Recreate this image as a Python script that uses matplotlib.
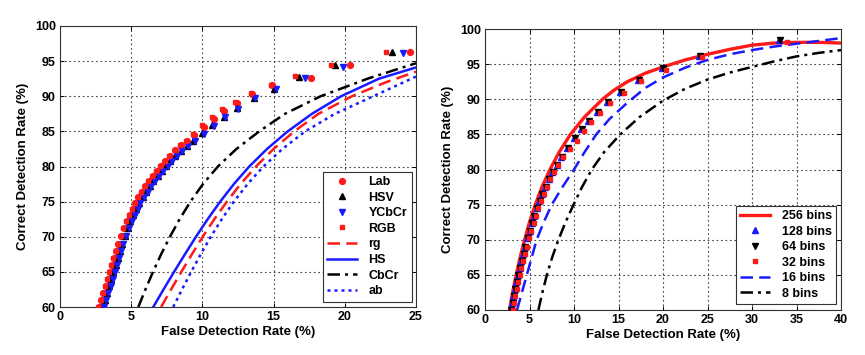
import matplotlib
matplotlib.use("Agg")
import matplotlib.pyplot as plt

plt.rcParams['font.family'] = ['Liberation Sans', 'DejaVu Sans']
plt.rcParams['font.weight'] = 'bold'

# ---------------- Left panel data ----------------
lab_fdr = [2.75, 2.9, 3.05, 3.2, 3.35, 3.5, 3.65, 3.8, 3.95, 4.1, 4.3, 4.5, 4.7, 4.9, 5.1, 5.3, 5.5, 5.75, 6.0,
           6.25, 6.5, 6.8, 7.1, 7.4, 7.7, 8.1, 8.5, 8.9, 9.4, 10.1, 10.8, 11.5, 12.4, 13.5, 14.9, 17.6, 20.4, 24.6]
lab_cdr = [60, 61, 62, 63, 64, 65, 66, 67, 68, 69, 70.1, 71.2, 72.2, 73.1, 74.0, 74.8, 75.6, 76.4, 77.2,
           77.9, 78.6, 79.4, 80.1, 80.8, 81.5, 82.3, 83.0, 83.7, 84.5, 85.6, 86.8, 87.9, 89.1, 90.3, 91.6, 92.6, 94.4, 96.3]

hsv_fdr = [3.0, 3.15, 3.3, 3.45, 3.6, 3.75, 3.9, 4.05, 4.2, 4.35, 4.55, 4.75, 4.95, 5.15, 5.35, 5.55, 5.8, 6.05,
           6.3, 6.55, 6.85, 7.15, 7.45, 7.75, 8.1, 8.5, 8.9, 9.35, 10.0, 10.7, 11.5, 12.4, 13.6, 15.0, 16.8, 19.3, 23.3]
hsv_cdr = [60, 61, 62, 63, 64, 65, 66, 67, 68, 69, 70.1, 71.2, 72.2, 73.1, 74.0, 74.8, 75.6, 76.4,
           77.2, 77.9, 78.6, 79.4, 80.1, 80.8, 81.5, 82.2, 82.9, 83.7, 84.8, 85.9, 87.1, 88.3, 89.7, 91.1, 92.7, 94.4, 96.3]

ycbcr_fdr = [3.1, 3.25, 3.4, 3.55, 3.7, 3.85, 4.0, 4.15, 4.3, 4.45, 4.65, 4.85, 5.05, 5.25, 5.45, 5.65, 5.9, 6.15,
             6.4, 6.65, 6.95, 7.25, 7.55, 7.85, 8.2, 8.6, 9.0, 9.45, 10.1, 10.8, 11.6, 12.5, 13.7, 15.2, 17.2, 19.9, 24.1]
ycbcr_cdr = [60, 61, 62, 63, 64, 65, 66, 67, 68, 69, 70.1, 71.2, 72.2, 73.1, 74.0, 74.8, 75.6, 76.4,
             77.2, 77.9, 78.6, 79.4, 80.1, 80.8, 81.5, 82.2, 82.9, 83.6, 84.6, 85.7, 87.0, 88.2, 89.7, 91.0, 92.6, 94.2, 96.2]

rgb_fdr = [2.7, 2.85, 3.0, 3.15, 3.3, 3.45, 3.6, 3.75, 3.9, 4.05, 4.25, 4.45, 4.65, 4.85, 5.05, 5.25, 5.45, 5.7, 5.95,
           6.2, 6.45, 6.75, 7.05, 7.35, 7.65, 8.05, 8.45, 8.85, 9.35, 10.0, 10.7, 11.4, 12.3, 13.4, 14.8, 16.5, 19.0, 22.9]
rgb_cdr = [60, 61, 62, 63, 64, 65, 66, 67, 68, 69, 70.1, 71.2, 72.2, 73.1, 74.0, 74.8, 75.6, 76.4, 77.2,
           77.9, 78.6, 79.4, 80.1, 80.8, 81.5, 82.3, 83.0, 83.7, 84.6, 85.9, 87.1, 88.2, 89.2, 90.4, 91.6, 92.9, 94.4, 96.3]

rg_fdr = [7.1, 7.8, 8.52, 9.26, 10.02, 10.84, 11.72, 12.68, 13.76, 15.0, 16.45, 18.15, 20.5, 22.9, 25]
rg_cdr = [60, 62.5, 65, 67.5, 70, 72.5, 75, 77.5, 80, 82.5, 85, 87.5, 90, 92.0, 93.5]

hs_fdr = [6.55, 7.27, 8.01, 8.77, 9.55, 10.37, 11.25, 12.21, 13.29, 14.54, 15.99, 17.69, 19.74, 22.4, 25]
hs_cdr = [60, 62.5, 65, 67.5, 70, 72.5, 75, 77.5, 80, 82.5, 85, 87.5, 90, 92.5, 94.1]

cbcr_fdr = [5.5, 6.0, 6.53, 7.1, 7.72, 8.4, 9.16, 10.04, 11.09, 12.39, 13.99, 15.8, 18.3, 21.6, 25]
cbcr_cdr = [60, 62.5, 65, 67.5, 70, 72.5, 75, 77.5, 80, 82.5, 85, 87.5, 90, 92.5, 94.7]

ab_fdr = [7.95, 8.57, 9.21, 9.88, 10.59, 11.36, 12.21, 13.17, 14.29, 15.62, 17.22, 19.3, 22.0, 25]
ab_cdr = [60, 62.5, 65, 67.5, 70, 72.5, 75, 77.5, 80, 82.5, 85, 87.5, 90, 92.8]

# ---------------- Right panel data ----------------
b256_fdr = [2.75, 3.1, 3.5, 3.95, 4.45, 5.0, 5.65, 6.4, 7.3, 8.35, 9.6, 11.2, 13.2, 14.5, 16.0, 18.0, 20.0,
            22.5, 25, 27.5, 30, 32.5, 35, 37.5, 40]
b256_cdr = [60, 62.5, 65, 67.5, 70, 72.5, 75, 77.5, 80, 82.5, 85, 87.5, 90, 91.3, 92.5, 93.7, 94.6,
            95.6, 96.4, 97.1, 97.7, 98.0, 98.1, 98.1, 98.0]

b128_fdr = [2.9, 3.05, 3.2, 3.35, 3.5, 3.7, 3.9, 4.1, 4.3, 4.5, 4.75, 5.0, 5.25, 5.5, 5.8, 6.1, 6.4, 6.75, 7.15,
            7.55, 8.05, 8.55, 9.25, 10.0, 10.8, 11.6, 12.6, 13.7, 15.2, 17.2, 19.9, 24.1, 33.0]
b128_cdr = [60, 61, 62, 63, 64, 65, 66, 67, 68, 69, 70.2, 71.3, 72.4, 73.4, 74.5, 75.5, 76.5, 77.5, 78.6,
            79.6, 80.7, 81.8, 83.1, 84.5, 85.7, 86.9, 88.2, 89.6, 91.0, 92.7, 94.4, 96.2, 98.4]

b64_fdr = [2.95, 3.1, 3.25, 3.4, 3.55, 3.75, 3.95, 4.15, 4.35, 4.55, 4.8, 5.05, 5.3, 5.55, 5.85, 6.15, 6.45, 6.8, 7.2,
           7.6, 8.1, 8.6, 9.3, 10.1, 10.9, 11.7, 12.7, 13.8, 15.3, 17.3, 20.0, 24.2, 33.1]
b64_cdr = [60, 61, 62, 63, 64, 65, 66, 67, 68, 69, 70.2, 71.3, 72.4, 73.4, 74.5, 75.5, 76.5, 77.5, 78.6,
           79.6, 80.7, 81.8, 83.1, 84.5, 85.7, 86.9, 88.2, 89.6, 91.0, 92.7, 94.4, 96.2, 98.4]

b32_fdr = [3.1, 3.25, 3.4, 3.55, 3.7, 3.9, 4.1, 4.3, 4.5, 4.7, 4.95, 5.2, 5.45, 5.7, 6.0, 6.3, 6.6, 6.95, 7.35,
           7.75, 8.25, 8.8, 9.5, 10.3, 11.1, 11.9, 12.9, 14.1, 15.6, 17.5, 20.3, 24.4, 33.9]
b32_cdr = [60, 61, 62, 63, 64, 65, 66, 67, 68, 69, 70.2, 71.3, 72.4, 73.4, 74.5, 75.5, 76.5, 77.5, 78.6,
           79.6, 80.7, 81.8, 82.9, 84.1, 85.5, 86.7, 88.1, 89.5, 90.9, 92.6, 94.2, 96.0, 98.2]

b16_fdr = [3.6, 4.15, 4.7, 5.25, 5.8, 6.6, 7.5, 8.7, 10.0, 11.2, 12.5, 14.0, 15.9, 18.0, 20.0, 22.5, 25,
           27.5, 30, 32.5, 35, 37.5, 40]
b16_cdr = [60, 62.5, 65, 67.5, 70, 72.5, 75, 77.5, 80, 82.5, 85, 87.2, 89.4, 91.6, 93.1, 94.5, 95.6,
           96.4, 97.0, 97.5, 97.9, 98.3, 98.7]

b8_fdr = [6.0, 6.45, 6.95, 7.55, 8.25, 9.05, 9.95, 10.9, 12.0, 13.4, 15.2, 17.4, 20.0, 22.5, 25,
          27.5, 30, 32.5, 35, 37.5, 40]
b8_cdr = [60, 62.5, 65, 67.5, 70, 72.5, 75, 77.5, 80, 82.5, 85, 87.5, 89.8, 91.5, 92.8,
          93.8, 94.6, 95.4, 96.1, 96.6, 97.0]

left_xticks = [0, 5, 10, 15, 20, 25]
right_xticks = [0, 5, 10, 15, 20, 25, 30, 35, 40]
yticks = [60, 65, 70, 75, 80, 85, 90, 95, 100]

RED = '#ff1a1a'
BLUE = '#1a1aff'
BLACK = '#000000'

W, H = 865, 355
fig = plt.figure(figsize=(W / 100, H / 100), dpi=100)

axL = fig.add_axes([60 / W, 1 - 307 / H, 356 / W, 281 / H])
axR = fig.add_axes([485 / W, 1 - 310 / H, 356 / W, 281 / H])

FS = 9

def style(ax, xt, xmax):
    ax.set_xlim(0, xmax)
    ax.set_ylim(60, 100)
    ax.set_xticks(xt)
    ax.set_yticks(yticks)
    ax.tick_params(direction='in', top=True, right=True, length=3, width=0.7,
                   labelsize=FS, pad=3)
    for lab in ax.get_xticklabels() + ax.get_yticklabels():
        lab.set_fontweight('bold')
    ax.grid(True, linestyle=(0, (1.5, 2.5)), color='#444444', linewidth=0.8)
    ax.set_axisbelow(True)
    for s in ax.spines.values():
        s.set_linewidth(0.8)
        s.set_color('#333333')
    ax.set_xlabel('False Detection Rate (%)', fontsize=9.5, fontweight='bold', labelpad=2)
    ax.set_ylabel('Correct Detection Rate (%)', fontsize=9.5, fontweight='bold', labelpad=4)

# Left panel
ms = 4.2
axL.plot(lab_fdr, lab_cdr, 'o', color=RED, ms=ms, mec=RED, label='Lab', zorder=3)
axL.plot(hsv_fdr, hsv_cdr, '^', color=BLACK, ms=ms, label='HSV', zorder=3)
axL.plot(ycbcr_fdr, ycbcr_cdr, 'v', color=BLUE, ms=ms + 0.5, mec=BLUE, label='YCbCr', zorder=3)
axL.plot(rgb_fdr, rgb_cdr, 's', color=RED, ms=ms - 0.8, mec=RED, label='RGB', zorder=3)
axL.plot(rg_fdr, rg_cdr, color=RED, lw=1.8, linestyle=(0, (5, 2.5)), label='rg', zorder=2)
axL.plot(hs_fdr, hs_cdr, color=BLUE, lw=1.8, linestyle='-', label='HS', zorder=2)
axL.plot(cbcr_fdr, cbcr_cdr, color=BLACK, lw=1.8, linestyle=(0, (5, 2, 1.2, 2)), label='CbCr', zorder=2)
axL.plot(ab_fdr, ab_cdr, color=BLUE, lw=1.8, linestyle=(0, (1.2, 1.6)), label='ab', zorder=2)
style(axL, left_xticks, 25)

legL = axL.legend(loc='lower right', bbox_to_anchor=(0.988, 0.019), borderaxespad=0,
                  prop={'weight': 'bold', 'size': FS}, frameon=True, fancybox=False,
                  edgecolor='#333333', framealpha=1, handlelength=2.4, handletextpad=0.9,
                  labelspacing=0.29, borderpad=0.35)
legL.get_frame().set_linewidth(0.8)

# Right panel
axR.plot(b256_fdr, b256_cdr, color=RED, lw=2.4, linestyle='-', label='256 bins', zorder=2)
axR.plot(b128_fdr, b128_cdr, '^', color=BLUE, ms=ms - 0.5, mec=BLUE, label='128 bins', zorder=3)
axR.plot(b64_fdr, b64_cdr, 'v', color=BLACK, ms=ms, label='64 bins', zorder=3)
axR.plot(b32_fdr, b32_cdr, 's', color=RED, ms=ms - 0.8, mec=RED, label='32 bins', zorder=3)
axR.plot(b16_fdr, b16_cdr, color=BLUE, lw=1.8, linestyle=(0, (5, 2.5)), label='16 bins', zorder=2)
axR.plot(b8_fdr, b8_cdr, color=BLACK, lw=1.8, linestyle=(0, (5, 2, 1.2, 2)), label='8 bins', zorder=2)
style(axR, right_xticks, 40)

legR = axR.legend(loc='lower right', bbox_to_anchor=(0.986, 0.021), borderaxespad=0,
                  prop={'weight': 'bold', 'size': FS}, frameon=True, fancybox=False,
                  edgecolor='#333333', framealpha=1, handlelength=2.4, handletextpad=0.9,
                  labelspacing=0.28, borderpad=0.35)
legR.get_frame().set_linewidth(0.8)

fig.savefig('out.png', dpi=100, facecolor='white')
